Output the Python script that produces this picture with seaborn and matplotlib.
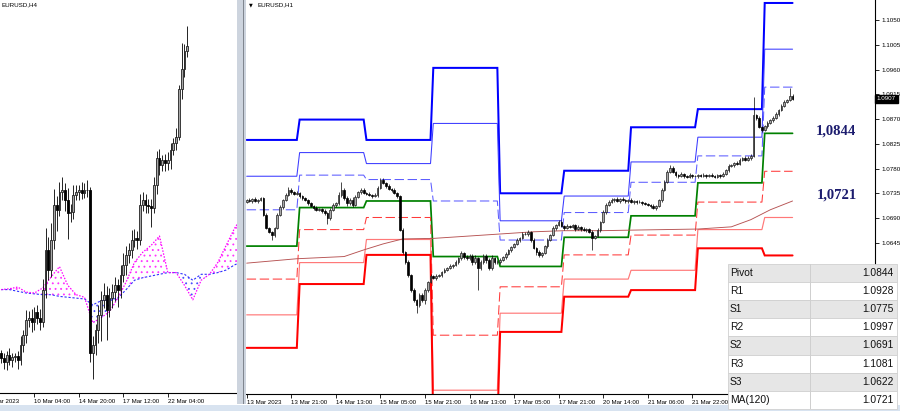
import numpy as np
import pandas as pd
import matplotlib
matplotlib.use("Agg")
import matplotlib.pyplot as plt
import matplotlib.transforms as mtransforms
from matplotlib.patches import Rectangle
import seaborn as sns

# ------------------------------------------------------------------ data
# EURUSD H1 closes (one per hourly bar, 13 Mar 05:00 ... 23 Mar 10:00)
h1_close = [
    1.0723, 1.0721, 1.0725, 1.0721, 1.0723, 1.0726, 1.0696, 1.0672, 1.0665, 1.0659,
    1.0672, 1.0696, 1.0710, 1.0723, 1.0732, 1.0741, 1.0737, 1.0734, 1.0736, 1.0730,
    1.0726, 1.0723, 1.0717, 1.0712, 1.0708, 1.0705, 1.0706, 1.0703, 1.0699, 1.0690,
    1.0705, 1.0714, 1.0717, 1.0732, 1.0741, 1.0726, 1.0717, 1.0723, 1.0714, 1.0728,
    1.0737, 1.0741, 1.0736, 1.0734, 1.0732, 1.0730, 1.0732, 1.0745, 1.0759, 1.0754,
    1.0748, 1.0743, 1.0741, 1.0736, 1.0730, 1.0668, 1.0628, 1.0610, 1.0586, 1.0559,
    1.0541, 1.0532, 1.0550, 1.0541, 1.0559, 1.0574, 1.0585, 1.0581, 1.0585, 1.0586,
    1.0592, 1.0596, 1.0599, 1.0603, 1.0605, 1.0610, 1.0617, 1.0626, 1.0619, 1.0617,
    1.0621, 1.0610, 1.0617, 1.0599, 1.0610, 1.0621, 1.0614, 1.0599, 1.0617, 1.0610,
    1.0610, 1.0614, 1.0619, 1.0625, 1.0632, 1.0637, 1.0643, 1.0650, 1.0654, 1.0661,
    1.0661, 1.0665, 1.0650, 1.0636, 1.0628, 1.0623, 1.0626, 1.0639, 1.0650, 1.0659,
    1.0672, 1.0677, 1.0683, 1.0676, 1.0672, 1.0676, 1.0674, 1.0677, 1.0670, 1.0674,
    1.0670, 1.0668, 1.0670, 1.0665, 1.0654, 1.0657, 1.0668, 1.0683, 1.0701, 1.0714,
    1.0719, 1.0723, 1.0725, 1.0721, 1.0725, 1.0723, 1.0721, 1.0723, 1.0719, 1.0721,
    1.0719, 1.0719, 1.0717, 1.0716, 1.0714, 1.0712, 1.0708, 1.0712, 1.0723, 1.0741,
    1.0756, 1.0774, 1.0781, 1.0774, 1.0768, 1.0766, 1.0770, 1.0766, 1.0765, 1.0768,
    1.0766, 1.0766, 1.0768, 1.0766, 1.0768, 1.0766, 1.0768, 1.0766, 1.0765, 1.0768,
    1.0766, 1.0770, 1.0777, 1.0785, 1.0786, 1.0790, 1.0788, 1.0796, 1.0799, 1.0796,
    1.0799, 1.0803, 1.0877, 1.0872, 1.0856, 1.0850, 1.0857, 1.0863, 1.0868, 1.0872,
    1.0879, 1.0886, 1.0894, 1.0901, 1.0905, 1.0912, 1.0907,
]
h1_first_open = 1.0720
# upper / lower shadow length in pips
h1_wick_up = [
    2, 3, 2, 3, 2, 3, 2, 3, 2, 2,   2, 3, 3, 2, 3, 6, 3, 2, 3, 2,
    2, 3, 2, 3, 2, 3, 2, 2, 3, 2,   3, 4, 3, 5, 15, 3, 4, 3, 5, 3,
    3, 4, 3, 2, 3, 2, 3, 3, 4, 3,   2, 3, 2, 3, 2, 2, 3, 2, 3, 2,
    3, 2, 4, 3, 3, 2, 3, 2, 3, 2,   2, 3, 2, 3, 2, 3, 2, 4, 3, 3,
    4, 3, 5, 3, 4, 3, 4, 3, 5, 3,   3, 3, 2, 3, 2, 3, 2, 3, 2, 3,
    3, 4, 2, 3, 2, 3, 3, 2, 3, 2,   3, 2, 3, 3, 2, 3, 2, 3, 2, 3,
    2, 3, 2, 2, 3, 2, 3, 2, 3, 3,   3, 3, 2, 3, 2, 3, 2, 2, 3, 2,
    2, 3, 2, 3, 2, 2, 3, 2, 2, 3,   3, 3, 5, 3, 2, 2, 3, 2, 2, 3,
    2, 3, 2, 2, 3, 2, 2, 3, 2, 2,   2, 3, 3, 3, 3, 2, 3, 3, 2, 3,
    3, 3, 33, 3, 3, 2, 3, 3, 2, 3,  3, 2, 3, 3, 2, 14, 3,
]
h1_wick_dn = [
    3, 2, 3, 2, 3, 2, 3, 2, 3, 9,   3, 2, 2, 3, 2, 2, 3, 3, 2, 3,
    3, 2, 3, 2, 3, 2, 3, 4, 3, 11,  3, 3, 4, 3, 3, 3, 6, 3, 4, 3,
    2, 3, 2, 3, 2, 3, 2, 3, 2, 3,   3, 2, 3, 2, 3, 2, 4, 3, 3, 4,
    4, 15, 3, 4, 8, 3, 3, 2, 3, 2,  3, 2, 3, 2, 3, 2, 3, 3, 4, 3,
    3, 5, 3, 40, 4, 3, 5, 4, 3, 4,  3, 3, 2, 3, 2, 3, 2, 2, 3, 2,
    2, 3, 4, 3, 6, 3, 3, 2, 3, 2,   2, 3, 2, 3, 3, 2, 3, 2, 3, 2,
    3, 2, 3, 3, 22, 3, 2, 3, 2, 3,  2, 2, 3, 2, 3, 2, 3, 3, 2, 3,
    3, 2, 3, 2, 3, 3, 2, 3, 2, 3,   2, 3, 3, 2, 3, 3, 2, 3, 3, 2,
    3, 2, 3, 2, 2, 3, 2, 2, 3, 2,   3, 2, 2, 3, 2, 3, 2, 2, 3, 2,
    2, 3, 2, 3, 3, 3, 2, 3, 2, 3,   2, 3, 2, 3, 2, 3, 2,
]
# first bar of each trading day (13,14,15,16,17,20,21,22,23 Mar)
day_start = [0, 19, 43, 67, 91, 114, 138, 162, 186]
lvl_r3 = [1.0832, 1.0869, 1.0832, 1.0963, 1.0735, 1.0776, 1.0855, 1.0888, 1.1081]
lvl_r2 = [1.0766, 1.0809, 1.0789, 1.0862, 1.0685, 1.0730, 1.0792, 1.0837, 1.0997]
lvl_r1 = [1.0705, 1.0768, 1.0760, 1.0721, 1.0650, 1.0700, 1.0755, 1.0803, 1.0928]
lvl_pp = [1.0639, 1.0709, 1.0721, 1.0620, 1.0602, 1.0655, 1.0694, 1.0754, 1.0844]
lvl_s1 = [1.0579, 1.0669, 1.0691, 1.0477, 1.0565, 1.0623, 1.0659, 1.0719, 1.0775]
lvl_s2 = [1.0514, 1.0609, 1.0651, 1.0377, 1.0517, 1.0579, 1.0595, 1.0669, 1.0691]
lvl_s3 = [1.0454, 1.0570, 1.0623, 1.0310, 1.0483, 1.0547, 1.0559, 1.0635, 1.0622]
ma_bar = [0, 18, 35, 42, 49, 56, 67, 79, 91, 103, 114, 127, 138, 150, 162, 174, 181, 188, 196]
ma_val = [1.0608, 1.0616, 1.0620, 1.0632, 1.0643, 1.0652, 1.0653, 1.0657, 1.0661, 1.0665,
          1.0667, 1.0667, 1.0668, 1.0669, 1.0670, 1.0674, 1.0687, 1.0705, 1.0721]
h1_tick_bars = [0, 16, 32, 48, 64, 80, 96, 112, 128, 144, 160]
h1_tick_labels = ["13 Mar 2023", "13 Mar 21:00", "14 Mar 13:00", "15 Mar 05:00",
                  "15 Mar 21:00", "16 Mar 13:00", "17 Mar 05:00", "17 Mar 21:00",
                  "20 Mar 14:00", "21 Mar 06:00", "21 Mar 22:00"]
h1_price_ticks = [1.1050, 1.1005, 1.0960, 1.0915, 1.0870, 1.0825, 1.0780, 1.0735, 1.0690, 1.0645]
last_price = 1.0907

# EURUSD H4 closes
h4_close = [
    1.0540, 1.0535, 1.0543, 1.0537, 1.0541, 1.0542, 1.0537, 1.0555, 1.0567, 1.0584,
    1.0587, 1.0582, 1.0594, 1.0587, 1.0582, 1.0620, 1.0667, 1.0643, 1.0678, 1.0720,
    1.0714, 1.0735, 1.0737, 1.0725, 1.0710, 1.0711, 1.0731, 1.0735, 1.0737, 1.0734,
    1.0737, 1.0737, 1.0545, 1.0555, 1.0572, 1.0590, 1.0608, 1.0614, 1.0596, 1.0610,
    1.0617, 1.0625, 1.0620, 1.0637, 1.0649, 1.0661, 1.0667, 1.0678, 1.0681, 1.0678,
    1.0720, 1.0725, 1.0720, 1.0718, 1.0716, 1.0743, 1.0775, 1.0767, 1.0772, 1.0769,
    1.0772, 1.0784, 1.0792, 1.0800, 1.0856, 1.0880, 1.0901, 1.0906,
]
h4_first_open = 1.0545
h4_wick_up = [4, 6, 5, 8, 5, 4, 6, 10, 6, 12, 8, 10, 6, 8, 10, 12,
              25, 15, 20, 18, 10, 12, 15, 8, 14, 10, 12, 8, 6, 10, 8, 12,
              4, 10, 8, 12, 10, 14, 10, 12, 10, 10, 8, 12, 14, 10, 8, 12, 10, 8,
              12, 10, 8, 6, 8, 10, 8, 10, 6, 8, 10, 8, 6, 10,
              5, 30, 8, 24]
h4_wick_dn = [6, 8, 10, 6, 8, 6, 10, 6, 8, 10, 8, 12, 10, 8, 10, 6,
              10, 12, 8, 10, 25, 8, 10, 12, 30, 10, 8, 6, 10, 8, 6, 8,
              10, 30, 12, 15, 30, 10, 35, 8, 12, 10, 20, 10, 8, 12, 10, 10, 8, 10,
              6, 8, 10, 8, 22, 6, 10, 12, 8, 10, 8, 10, 6, 8,
              4, 12, 10, 8]
h4_tick_bars = [12, 28, 44, 60]
h4_tick_labels = ["10 Mar 04:00", "14 Mar 20:00", "17 Mar 12:00", "22 Mar 04:00"]
h4_first_label = "7 Mar 2023"
kumo_bar = [0, 3, 6, 9, 12, 15, 18, 21, 24, 27, 30, 33, 36, 39, 42, 45, 48, 51, 54, 57,
            60, 63, 66, 69, 72, 75, 78, 81, 84, 86]
span_a = [1.0620, 1.0621, 1.0623, 1.0617, 1.0616, 1.0622, 1.0635, 1.0647, 1.0625, 1.0614,
          1.0611, 1.0581, 1.0587, 1.0594, 1.0610, 1.0629, 1.0652, 1.0664, 1.0672, 1.0683,
          1.0640, 1.0640, 1.0625, 1.0608, 1.0631, 1.0638, 1.0652, 1.0672, 1.0692, 1.0702]
span_b = [1.0620, 1.0620, 1.0618, 1.0616, 1.0615, 1.0614, 1.0614, 1.0612, 1.0611, 1.0610,
          1.0609, 1.0602, 1.0607, 1.0608, 1.0610, 1.0620, 1.0631, 1.0634, 1.0636, 1.0638,
          1.0640, 1.0640, 1.0638, 1.0631, 1.0638, 1.0638, 1.0640, 1.0643, 1.0649, 1.0652]

table_names = ["Pivot", "R1", "S1", "R2", "S2", "R3", "S3", "MA(120)"]

# ------------------------------------------------------------------ style
sns.set_theme(style="white")
plt.rcParams["font.family"] = ["Liberation Sans", "DejaVu Sans"]
plt.rcParams["hatch.linewidth"] = 0.6

W, H = 900, 411
fig = plt.figure(figsize=(9, 4.11), dpi=100)
fig.patch.set_facecolor("white")


def fx(px):
    return px / W


def fy(py):
    return 1 - py / H


axL = fig.add_axes([0, fy(393), fx(237), 393 / H])
axR = fig.add_axes([fx(246), fy(394), fx(875 - 246), 394 / H])
for ax in (axL, axR):
    ax.set_facecolor("white")
    for s in ax.spines.values():
        s.set_visible(False)
    ax.grid(False)


def draw_candles(ax, close, first_open, wup, wdn, width, lw):
    c = np.asarray(close, dtype=float)
    o = np.concatenate([[first_open], c[:-1]])
    x = np.arange(len(c))
    hi = np.maximum(o, c) + np.asarray(wup) * 1e-4
    lo = np.minimum(o, c) - np.asarray(wdn) * 1e-4
    ax.vlines(x, lo, hi, color="black", lw=lw, zorder=3)
    bottom = np.minimum(o, c)
    height = np.maximum(np.abs(c - o), 0.00006)
    up = c >= o
    ax.bar(x[up], height[up], bottom=bottom[up], width=width, color="#a8a8a8",
           edgecolor="#202020", linewidth=lw, zorder=4)
    ax.bar(x[~up], height[~up], bottom=bottom[~up], width=width, color="black",
           edgecolor="black", linewidth=lw, zorder=4)


# ------------------------------------------------------------------ right (H1)
n1 = len(h1_close)
day_len = np.diff(day_start + [n1])
bars = np.arange(n1)
level_style = [
    (lvl_r3, "#0000ff", 1.45, None),
    (lvl_r2, "#3a3aff", 0.75, None),
    (lvl_r1, "#5c5cff", 0.75, (9, 3.5)),
    (lvl_pp, "#008000", 1.25, None),
    (lvl_s1, "#ff3a3a", 0.75, (9, 3.5)),
    (lvl_s2, "#ff7878", 0.85, None),
    (lvl_s3, "#ff0000", 1.45, None),
]
for vals, col, lw, dash in level_style:
    per_bar = np.repeat(vals, day_len)
    sns.lineplot(x=bars, y=per_bar, ax=axR, color=col, linewidth=lw,
                 estimator=None, sort=False, legend=False)
    line = axR.lines[-1]
    line.set_zorder(2)
    line.set_solid_joinstyle("miter")
    if dash:
        line.set_dashes(dash)

sns.lineplot(x=ma_bar, y=ma_val, ax=axR, color="#b65252", linewidth=0.65,
             estimator=None, sort=False, legend=False)
axR.lines[-1].set_zorder(2)

draw_candles(axR, h1_close, h1_first_open, h1_wick_up, h1_wick_dn, 0.6, 0.5)

px_per_bar = 2.785
axR.set_xlim((246 - 246.7) / px_per_bar, (875 - 246.7) / px_per_bar)
axR.set_ylim(1.03701, 1.10864)

axR.spines["right"].set_visible(True)
axR.spines["bottom"].set_visible(True)
for s in ("right", "bottom"):
    axR.spines[s].set_color("black")
    axR.spines[s].set_linewidth(0.8)
axR.yaxis.tick_right()
axR.set_yticks(h1_price_ticks, labels=[f"{v:.4f}" for v in h1_price_ticks])
axR.set_xticks(h1_tick_bars, labels=h1_tick_labels)
axR.tick_params(axis="y", which="major", length=3, width=0.6, labelsize=4.5,
                pad=1.5, colors="black", right=True, left=False)
axR.tick_params(axis="x", which="major", length=3, width=0.6, labelsize=4.4,
                pad=1.5, colors="black", bottom=True)
for lab in axR.get_xticklabels():
    lab.set_ha("left")
axR.set_xlabel("")
axR.set_ylabel("")

trans = mtransforms.blended_transform_factory(axR.transAxes, axR.transData)
axR.text(1.003, last_price, f"{last_price:.4f}", transform=trans, ha="left", va="center",
         fontsize=4.5, color="white", zorder=10, clip_on=False,
         bbox=dict(boxstyle="square,pad=0.25", fc="black", ec="black"))

label_col = "#1c1c6e"
axR.text(211.6, lvl_pp[-1] + 0.0005, f"{lvl_pp[-1]:.4f}".replace(".", ","),
         ha="center", va="center", fontsize=10.5, fontweight="bold",
         family="Liberation Serif", color=label_col, zorder=6)
axR.text(212.0, ma_val[-1] + 0.0011, f"{ma_val[-1]:.4f}".replace(".", ","),
         ha="center", va="center", fontsize=10.5, fontweight="bold",
         family="Liberation Serif", color=label_col, zorder=6)

# ------------------------------------------------------------------ left (H4)
ka = np.asarray(span_a)
kb = np.asarray(span_b)
kx = np.asarray(kumo_bar)
axL.fill_between(kx, ka, kb, where=ka >= kb, interpolate=True, facecolor="none",
                 edgecolor="#ff33ff", hatch="...", linewidth=0, zorder=1)
axL.fill_between(kx, ka, kb, where=ka < kb, interpolate=True, facecolor="none",
                 edgecolor="#4a4aff", hatch="...", linewidth=0, zorder=1)
sns.lineplot(x=kumo_bar, y=span_b, ax=axL, color="#3030ff", linewidth=0.8,
             estimator=None, sort=False, legend=False)
axL.lines[-1].set_dashes((2, 1.6))
sns.lineplot(x=kumo_bar, y=span_a, ax=axL, color="#ff00ff", linewidth=0.9,
             estimator=None, sort=False, legend=False)
axL.lines[-1].set_dashes((1.2, 1.2))

draw_candles(axL, h4_close, h4_first_open, h4_wick_up, h4_wick_dn, 0.65, 0.6)

axL.set_xlim(-0.4, 84.9)
axL.set_ylim(1.04984, 1.096058)
axL.spines["bottom"].set_visible(True)
axL.spines["bottom"].set_color("black")
axL.spines["bottom"].set_linewidth(0.8)
axL.set_yticks([])
axL.set_xticks(h4_tick_bars, labels=h4_tick_labels)
axL.tick_params(axis="x", length=3, width=0.6, labelsize=4.4, pad=1.5,
                colors="black", bottom=True)
for lab in axL.get_xticklabels():
    lab.set_ha("left")
axL.set_xlabel("")
axL.set_ylabel("")

# ------------------------------------------------------------------ chrome
# first date label of the H4 window is partly cut by the window edge, as in the source
fig.text(fx(-12), fy(401), h4_first_label, fontsize=4.4, ha="left", va="center", color="black")
fig.text(fx(2), fy(5), "EURUSD,H4", fontsize=4.5, ha="left", va="center", color="black")
fig.text(fx(249), fy(5), "\u25bc", fontsize=3.5, ha="left", va="center", color="black",
         family="DejaVu Sans")
fig.text(fx(257), fy(5), "EURUSD,H1", fontsize=4.5, ha="left", va="center", color="black")

# splitter between the two charts
fig.add_artist(Rectangle((fx(237), fy(404)), fx(9), 404 / H, transform=fig.transFigure,
                         facecolor="#cdd4de", edgecolor="none", zorder=1))
fig.add_artist(Rectangle((fx(242.6), fy(404)), fx(1.2), 404 / H, transform=fig.transFigure,
                         facecolor="#80868f", edgecolor="none", zorder=1))
# bottom window band
fig.add_artist(Rectangle((0, 0), 1, 6.5 / H, transform=fig.transFigure,
                         facecolor="#d8e3f0", edgecolor="none", zorder=1))

# summary table
table_vals = [lvl_pp[-1], lvl_r1[-1], lvl_s1[-1], lvl_r2[-1], lvl_s2[-1],
              lvl_r3[-1], lvl_s3[-1], ma_val[-1]]
row_top, row_h = 264.0, 18.1
tx0, tx1, tdiv = 727.5, 897.0, 810.0
for k, (name, val) in enumerate(zip(table_names, table_vals)):
    top = row_top + k * row_h
    fc = "#e6e6e6" if k % 2 == 0 else "white"
    fig.add_artist(Rectangle((fx(tx0), fy(top + row_h)), fx(tx1 - tx0), row_h / H,
                             transform=fig.transFigure, facecolor=fc,
                             edgecolor="#d0d0d0", linewidth=0.6, zorder=5))
    fig.text(fx(730), fy(top + row_h / 2), name, fontsize=7.4, ha="left", va="center",
             color="#111111", zorder=6)
    fig.text(fx(893.5), fy(top + row_h / 2), f"{val:.4f}", fontsize=7.4, ha="right",
             va="center", color="#111111", zorder=6)
fig.add_artist(Rectangle((fx(tdiv), fy(row_top + 8 * row_h)), fx(0.8), 8 * row_h / H,
                         transform=fig.transFigure, facecolor="#cfcfcf",
                         edgecolor="none", zorder=5.5))

fig.savefig("out.png", dpi=100, facecolor="white")
